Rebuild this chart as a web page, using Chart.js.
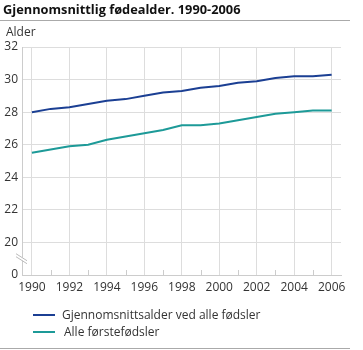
<!DOCTYPE html>
<html><head><meta charset="utf-8">
<script src="https://cdn.jsdelivr.net/npm/chart.js@4/dist/chart.umd.min.js"></script>
<style>
html,body{margin:0;padding:0;background:#fff;}
body{width:363px;height:350px;position:relative;overflow:hidden;font-family:"Open Sans",sans-serif;}
#title{position:absolute;left:3px;top:0px;font-size:12.8px;font-weight:bold;color:#111;white-space:nowrap;line-height:18px;}
#rule1{position:absolute;left:0;top:20px;width:350px;height:1px;background:#aaa;}
#rule2{position:absolute;left:0;top:348px;width:350px;height:1px;background:#aaa;}
#ylab{position:absolute;left:6px;top:24px;font-size:12px;color:#333;line-height:16px;}
canvas{position:absolute;left:0;top:0;}
.leg{position:absolute;font-size:12px;color:#333;white-space:nowrap;line-height:16px;}
.sw{position:absolute;width:22px;height:2px;}
</style></head>
<body>
<canvas id="c" width="363" height="350"></canvas>
<div id="title">Gjennomsnittlig fødealder. 1990-2006</div>
<div id="rule1"></div>
<div id="ylab">Alder</div>
<div class="sw" style="left:33px;top:314px;background:#1b3f93"></div>
<div class="leg" style="left:62px;top:307px">Gjennomsnittsalder ved alle fødsler</div>
<div class="sw" style="left:33px;top:331px;background:#1d9a98"></div>
<div class="leg" style="left:64px;top:324px">Alle førstefødsler</div>
<div id="rule2"></div>
<script>
const years = [1990,1991,1992,1993,1994,1995,1996,1997,1998,1999,2000,2001,2002,2003,2004,2005,2006];
const alleFodsler = [28.0,28.2,28.3,28.5,28.7,28.8,29.0,29.2,29.3,29.5,29.6,29.8,29.9,30.1,30.2,30.2,30.3];
const forstefodsler = [25.5,25.7,25.9,26.0,26.3,26.5,26.7,26.9,27.2,27.2,27.3,27.5,27.7,27.9,28.0,28.1,28.1];
const xTicks = [1990,1992,1994,1996,1998,2000,2002,2004,2006];
const yTicks = [18,20,22,24,26,28,30,32];
const yTickLabels = ['0','20','22','24','26','28','30','32'];
const seriesNames = ['Gjennomsnittsalder ved alle fødsler','Alle førstefødsler'];

const extras = {
  id:'extras',
  afterDraw(chart){
    const ctx = chart.ctx, x = chart.scales.x, y = chart.scales.y;
    const bottom = chart.chartArea.bottom;
    ctx.save();
    ctx.strokeStyle = '#ccc'; ctx.lineWidth = 1;
    years.filter(v=>v%2===1).forEach(v=>{
      const px = Math.round(x.getPixelForValue(v))+0.5;
      ctx.beginPath(); ctx.moveTo(px,bottom-5); ctx.lineTo(px,bottom); ctx.stroke();
    });
    // axis break marks
    const cy = y.getPixelForValue(19), cx = chart.chartArea.left;
    ctx.fillStyle='#fff';
    ctx.beginPath();
    ctx.moveTo(cx-6,cy-5); ctx.lineTo(cx+6,cy+2); ctx.lineTo(cx+6,cy+5); ctx.lineTo(cx-6,cy-2); ctx.closePath(); ctx.fill();
    ctx.strokeStyle='#bbb';
    ctx.beginPath(); ctx.moveTo(cx-6,cy-5); ctx.lineTo(cx+5,cy+2); ctx.stroke();
    ctx.beginPath(); ctx.moveTo(cx-6,cy-2); ctx.lineTo(cx+5,cy+5); ctx.stroke();
    ctx.restore();
  }
};

new Chart(document.getElementById('c'), {
  type:'line',
  data:{
    datasets:[
      {label:seriesNames[0], data:years.map((v,i)=>({x:v,y:alleFodsler[i]})), borderColor:'#1b3f93', borderWidth:2, pointRadius:0, tension:0},
      {label:seriesNames[1], data:years.map((v,i)=>({x:v,y:forstefodsler[i]})), borderColor:'#1d9a98', borderWidth:2, pointRadius:0, tension:0}
    ]
  },
  options:{
    responsive:false, animation:false, devicePixelRatio:1,
    layout:{padding:{top:47,left:0,right:22,bottom:55}},
    plugins:{legend:{display:false}, tooltip:{enabled:false}},
    scales:{
      x:{type:'linear', min:1989.47, max:2006.5,
        afterBuildTicks(s){ s.ticks = xTicks.map(v=>({value:v})); },
        afterFit(s){ s.height = 20; },
        ticks:{callback:v=>String(v), color:'#333', font:{family:'Open Sans', size:12}, padding:5, maxRotation:0, autoSkip:false},
        grid:{color:'#ddd', drawTicks:false},
        border:{color:'#ccc'}
      },
      y:{min:18, max:32,
        afterBuildTicks(s){ s.ticks = yTicks.map(v=>({value:v})); },
        afterFit(s){ s.width = 22; },
        ticks:{callback:v=>yTickLabels[yTicks.indexOf(v)], color:'#333', font:{family:'Open Sans', size:12}, padding:4},
        grid:{color:'#ddd', drawTicks:false},
        border:{color:'#ccc'}
      }
    }
  },
  plugins:[extras]
});
</script>
</body></html>
